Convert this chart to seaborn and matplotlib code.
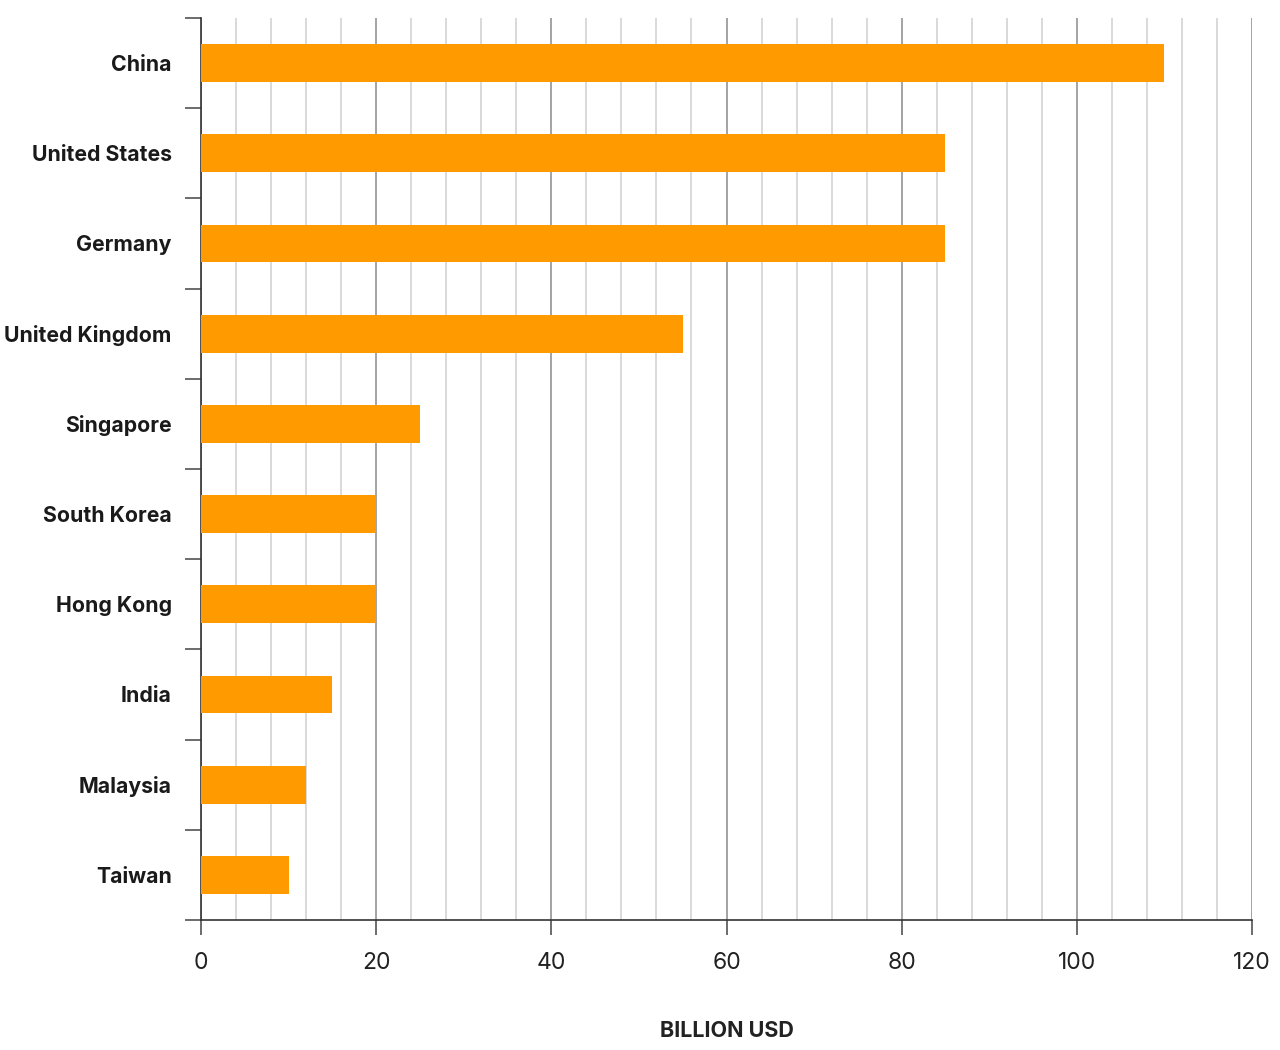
import numpy as np
import pandas as pd
import matplotlib
matplotlib.use("Agg")
import matplotlib.pyplot as plt
import seaborn as sns

# data
countries = ["China", "United States", "Germany", "United Kingdom", "Singapore",
             "South Korea", "Hong Kong", "India", "Malaysia", "Taiwan"]
values = [110, 85, 85, 55, 25, 20, 20, 15, 12, 10]

df = pd.DataFrame({"Country": countries, "Value": values})

sns.set_style("white")
plt.rcParams["font.family"] = ["Inter", "DejaVu Sans"]

fig = plt.figure(figsize=(12.8, 10.5), dpi=100)
ax = fig.add_axes([201 / 1280, 1 - 920 / 1050, (1252 - 201) / 1280, (920 - 18) / 1050])

sns.barplot(data=df, x="Value", y="Country", orient="h", color="#ff9a00",
            saturation=1, width=0.42, linewidth=0, ax=ax, zorder=3)

ax.set_xlim(0, 120)
ax.set_ylim(9.5, -0.5)

# grid: light every 4, darker every 20
ax.set_xticks(np.arange(0, 121, 20))
ax.set_xticks(np.arange(0, 121, 4), minor=True)
ax.grid(False)
ax.grid(axis="x", which="minor", color="#cfcfcf", linewidth=1.1, zorder=0)
ax.grid(axis="x", which="major", color="#8a8a8a", linewidth=1.1, zorder=1)
ax.set_axisbelow(True)

ax.tick_params(axis="x", which="major", bottom=True, length=11, width=1.1,
               color="#444444", labelsize=16.5, labelcolor="#222222", pad=12)
ax.tick_params(axis="x", which="minor", bottom=False, length=0)

# y ticks: labels centered, tick marks at category boundaries
ax.set_yticks(np.arange(-0.5, 10, 1), minor=True)
ax.tick_params(axis="y", which="major", left=False, length=0, pad=21,
               labelsize=15.3, labelcolor="#1a1a1a")
ax.tick_params(axis="y", which="minor", left=True, length=11.5, width=1.1,
               color="#444444")
for lbl in ax.get_yticklabels():
    lbl.set_fontweight("bold")

for s in ["top", "right"]:
    ax.spines[s].set_visible(False)
for s in ["left", "bottom"]:
    ax.spines[s].set_color("#333333")
    ax.spines[s].set_linewidth(1.2)

ax.set_ylabel("")
ax.set_xlabel("BILLION USD", fontsize=15.5, fontweight="bold", color="#222222",
              labelpad=34)

fig.savefig("out.png", dpi=100)
